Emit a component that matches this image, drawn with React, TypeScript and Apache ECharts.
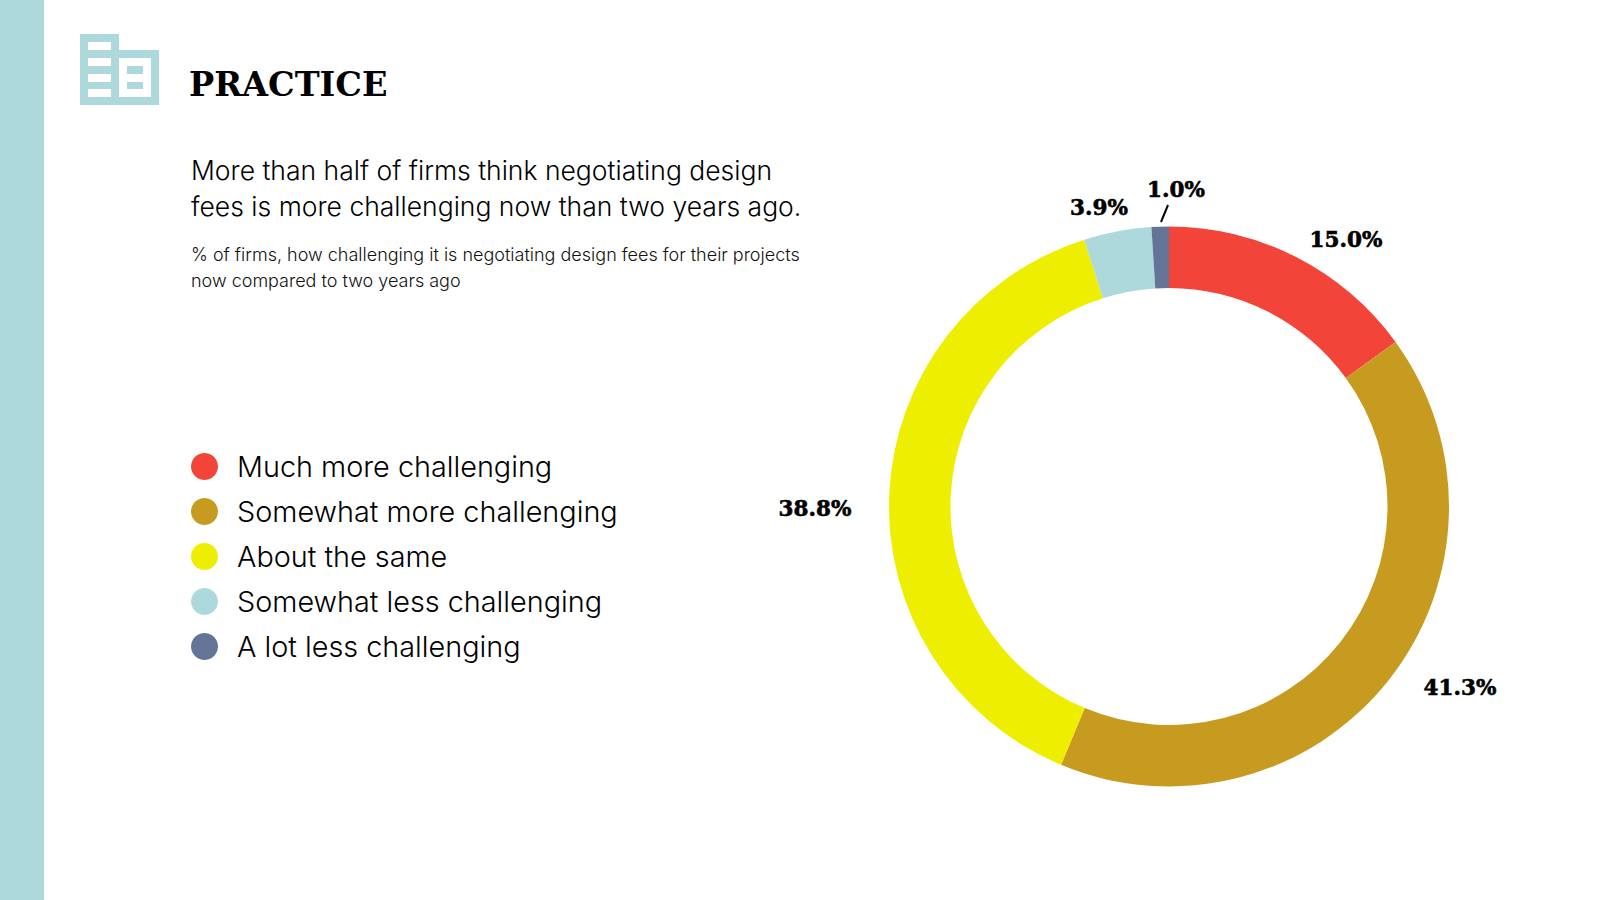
import React, { useEffect, useRef } from "react";
import * as echarts from "echarts";

const categories = ["Much more challenging", "Somewhat more challenging", "About the same", "Somewhat less challenging", "A lot less challenging"];
const values = [15.0, 41.3, 38.8, 3.9, 1.0];
const colors = ["#f24438", "#c79b20", "#eeee00", "#aed9dc", "#647497"];
const labelSpots = [[1346, 239], [1460, 687], [815, 508.5], [1099, 207], [1176, 189]];
const teal = "#aed9dc";
const sansFont = "Inter";
const slabFont = "DejaVu Serif";

const r = (x: number, y: number, width: number, height: number, fill: string) => ({
  type: "rect", shape: { x, y, width, height }, style: { fill }, silent: true,
});

export default function App() {
  const ref = useRef<HTMLDivElement>(null);
  useEffect(() => {
    document.body.style.margin = "0";
    const chart = echarts.init(ref.current!, null, { renderer: "svg" });
    chart.setOption({
      animation: false,
      backgroundColor: "#ffffff",
      title: [
        { text: "PRACTICE", left: 189, top: 67, padding: 0, textStyle: { fontFamily: slabFont, fontWeight: "bold", fontSize: 33.5, color: "#000" } },
        { text: "More than half of firms think negotiating design\nfees is more challenging now than two years ago.", left: 191, top: 152, padding: 0, textStyle: { fontFamily: sansFont, fontWeight: 300, fontSize: 26.5, lineHeight: 36, color: "#000" } },
        { text: "% of firms, how challenging it is negotiating design fees for their projects\nnow compared to two years ago", left: 191, top: 241, padding: 0, textStyle: { fontFamily: sansFont, fontWeight: 300, fontSize: 18, lineHeight: 26.5, color: "#111" } },
      ],
      legend: {
        orient: "vertical", left: 191, top: 452, padding: 0, icon: "circle", itemWidth: 27, itemHeight: 27, itemGap: 16,
        data: categories, selectedMode: false,
        textStyle: { fontFamily: sansFont, fontWeight: 300, fontSize: 28.8, lineHeight: 27, color: "#000", padding: [0, 0, 0, 14] },
      },
      graphic: [
        r(0, 0, 44, 900, teal),
        r(80, 34, 39, 71, teal), r(119, 50, 40, 55, teal),
        r(88, 42, 23, 8, "#fff"), r(88, 58, 23, 8, "#fff"), r(88, 74, 23, 8, "#fff"), r(88, 89, 23, 8, "#fff"),
        r(119, 58, 32, 39, "#fff"), r(127, 66, 16, 8, teal), r(127, 82, 16, 7, teal),
        { type: "line", shape: { x1: 1168, y1: 205, x2: 1161, y2: 222 }, style: { stroke: "#000", lineWidth: 2 }, silent: true },
      ],
      series: [{
        type: "pie", center: [1169, 506.5], radius: [218.5, 280], startAngle: 90, clockwise: true,
        avoidLabelOverlap: false, silent: true,
        label: {
          show: true, position: "outside",
          formatter: (p: any) => p.value.toFixed(1) + "%",
          fontFamily: slabFont, fontWeight: "bold", fontSize: 21.5, color: "#000",
          textBorderColor: "#000", textBorderWidth: 0.6,
        },
        labelLine: { show: false },
        labelLayout: (p: any) => ({ x: labelSpots[p.dataIndex][0], y: labelSpots[p.dataIndex][1], align: "center", verticalAlign: "middle" }),
        data: categories.map((name, i) => ({ name, value: values[i], itemStyle: { color: colors[i], borderWidth: 0 } })),
      }],
    });
    return () => chart.dispose();
  }, []);
  return <div ref={ref} style={{ position: "absolute", left: 0, top: 0, width: 1600, height: 900 }} />;
}
